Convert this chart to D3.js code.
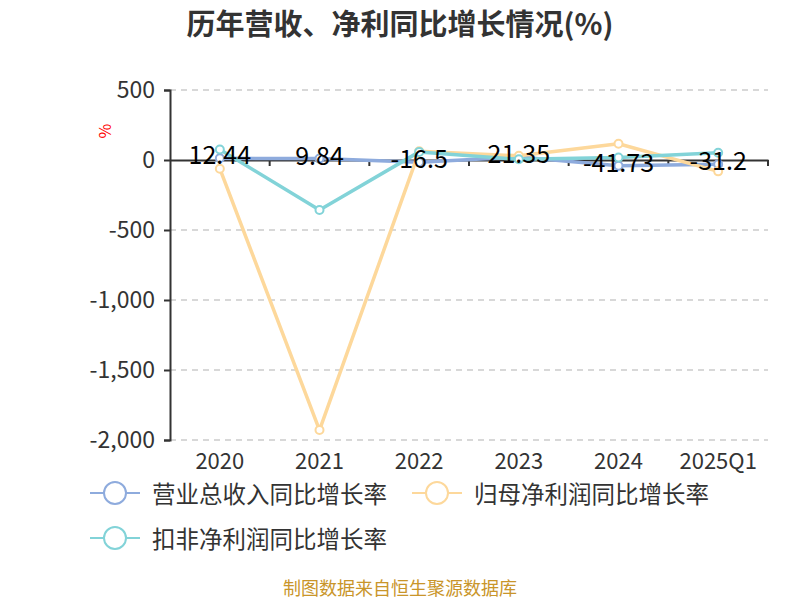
<!DOCTYPE html>
<html><head><meta charset="utf-8">
<script src="https://cdn.jsdelivr.net/npm/d3@7/dist/d3.min.js"></script>
<style>body{margin:0;background:#fff}</style>
</head><body>
<svg id="c" width="800" height="600"></svg>
<script>
const categories = ["2020","2021","2022","2023","2024","2025Q1"];
const revenueGrowth = [12.44, 9.84, -16.5, 21.35, -41.73, -31.2];
const netProfitGrowth = [-62, -1929, 62, 30, 116, -81];
const deductedProfitGrowth = [75, -357, 58, 5, 18, 52];
const yTicks = [500, 0, -500, -1000, -1500, -2000];
const seriesNames = ["营业总收入同比增长率","归母净利润同比增长率","扣非净利润同比增长率"];
const colors = ["#8eabdd","#fdd89b","#82d3d8"];

(function(){
const svg = d3.select("#c");
const font = "'Noto Sans CJK SC','Noto Sans',sans-serif";
const pL = 170, pR = 768, pT = 90, pB = 440;
const x = d3.scaleBand().domain(categories).range([pL, pR]);
const y = d3.scaleLinear().domain([-2000, 500]).range([pB, pT]);
const fmt = d => d3.format(",")(d).replace("\u2212","-");

svg.append("text").attr("x", 400).attr("y", 35).attr("text-anchor","middle")
  .attr("font-family", font).attr("font-size", 29).attr("font-weight","bold").attr("fill","#333")
  .text("历年营收、净利同比增长情况(%)");

// grid
svg.append("g").selectAll("line").data(yTicks.filter(d=>d!==0)).join("line")
  .attr("x1", pL).attr("x2", pR).attr("y1", d=>y(d)).attr("y2", d=>y(d))
  .attr("stroke","#ccc").attr("stroke-width",1.5).attr("stroke-dasharray","6,5");

// y axis
const yAxis = d3.axisLeft(y).tickValues(yTicks).tickSize(6).tickPadding(9).tickFormat(fmt);
const ya = svg.append("g").attr("transform",`translate(${pL},0)`).call(yAxis);
ya.select(".domain").attr("stroke","#333").attr("stroke-width",2);
ya.selectAll(".tick line").attr("stroke","#333").attr("stroke-width",2);
ya.selectAll(".tick text").attr("font-family",font).attr("font-size",23).attr("fill","#333");

svg.append("text").attr("transform",`translate(111,131) rotate(-90)`).attr("text-anchor","middle")
  .attr("font-family",font).attr("font-size",16).attr("fill","red").text("%");

// x axis at zero
const xAxis = d3.axisBottom(x).tickSize(0).tickFormat("");
const xa = svg.append("g").attr("transform",`translate(0,${y(0)})`).call(xAxis);
xa.select(".domain").attr("stroke","#333").attr("stroke-width",2);
const bounds = categories.map(c=>x(c)).concat([pR]).slice(1);
xa.selectAll(".bt").data(bounds).join("line").attr("x1",d=>d).attr("x2",d=>d)
  .attr("y1",0).attr("y2",6).attr("stroke","#333").attr("stroke-width",2);

svg.append("g").selectAll("text").data(categories).join("text")
  .attr("x", d=>x(d)+x.bandwidth()/2).attr("y", 469).attr("text-anchor","middle")
  .attr("font-family",font).attr("font-size",22).attr("fill","#333").text(d=>d);

const allSeries = [revenueGrowth, netProfitGrowth, deductedProfitGrowth];
const cx = c => x(c)+x.bandwidth()/2;
const line = d3.line().x((d,i)=>cx(categories[i])).y(d=>y(d));
allSeries.forEach((s,k)=>{
  const g = svg.append("g");
  g.append("path").datum(s).attr("d", line).attr("fill","none")
   .attr("stroke", colors[k]).attr("stroke-width", 3.5).attr("stroke-linejoin","round");
  g.selectAll("circle").data(s).join("circle")
   .attr("cx",(d,i)=>cx(categories[i])).attr("cy",d=>y(d)).attr("r",4)
   .attr("fill","#fff").attr("stroke",colors[k]).attr("stroke-width",2);
});

// labels of revenue series
svg.append("g").selectAll("text").data(revenueGrowth).join("text")
  .attr("x",(d,i)=>cx(categories[i])).attr("y",d=>y(d)+6)
  .attr("text-anchor","middle").attr("font-family",font).attr("font-size",25).attr("fill","#000")
  .text(d=>String(d));

// legend
const legendItems = [
  {name: seriesNames[0], color: colors[0], x: 90, y: 493},
  {name: seriesNames[1], color: colors[1], x: 412, y: 493},
  {name: seriesNames[2], color: colors[2], x: 90, y: 538}
];
const lg = svg.append("g").selectAll("g").data(legendItems).join("g")
  .attr("transform", d=>`translate(${d.x},${d.y})`);
lg.append("line").attr("x1",0).attr("x2",50).attr("y1",0).attr("y2",0)
  .attr("stroke",d=>d.color).attr("stroke-width",2);
lg.append("circle").attr("cx",25).attr("cy",0).attr("r",11).attr("fill","#fff")
  .attr("stroke",d=>d.color).attr("stroke-width",2);
lg.append("text").attr("x",62).attr("y",10).attr("font-family",font).attr("font-size",23.5)
  .attr("fill","#333").text(d=>d.name);

svg.append("text").attr("x",400).attr("y",595).attr("text-anchor","middle")
  .attr("font-family",font).attr("font-size",18).attr("fill","#c9952a").text("制图数据来自恒生聚源数据库");
})();
</script>
</body></html>
